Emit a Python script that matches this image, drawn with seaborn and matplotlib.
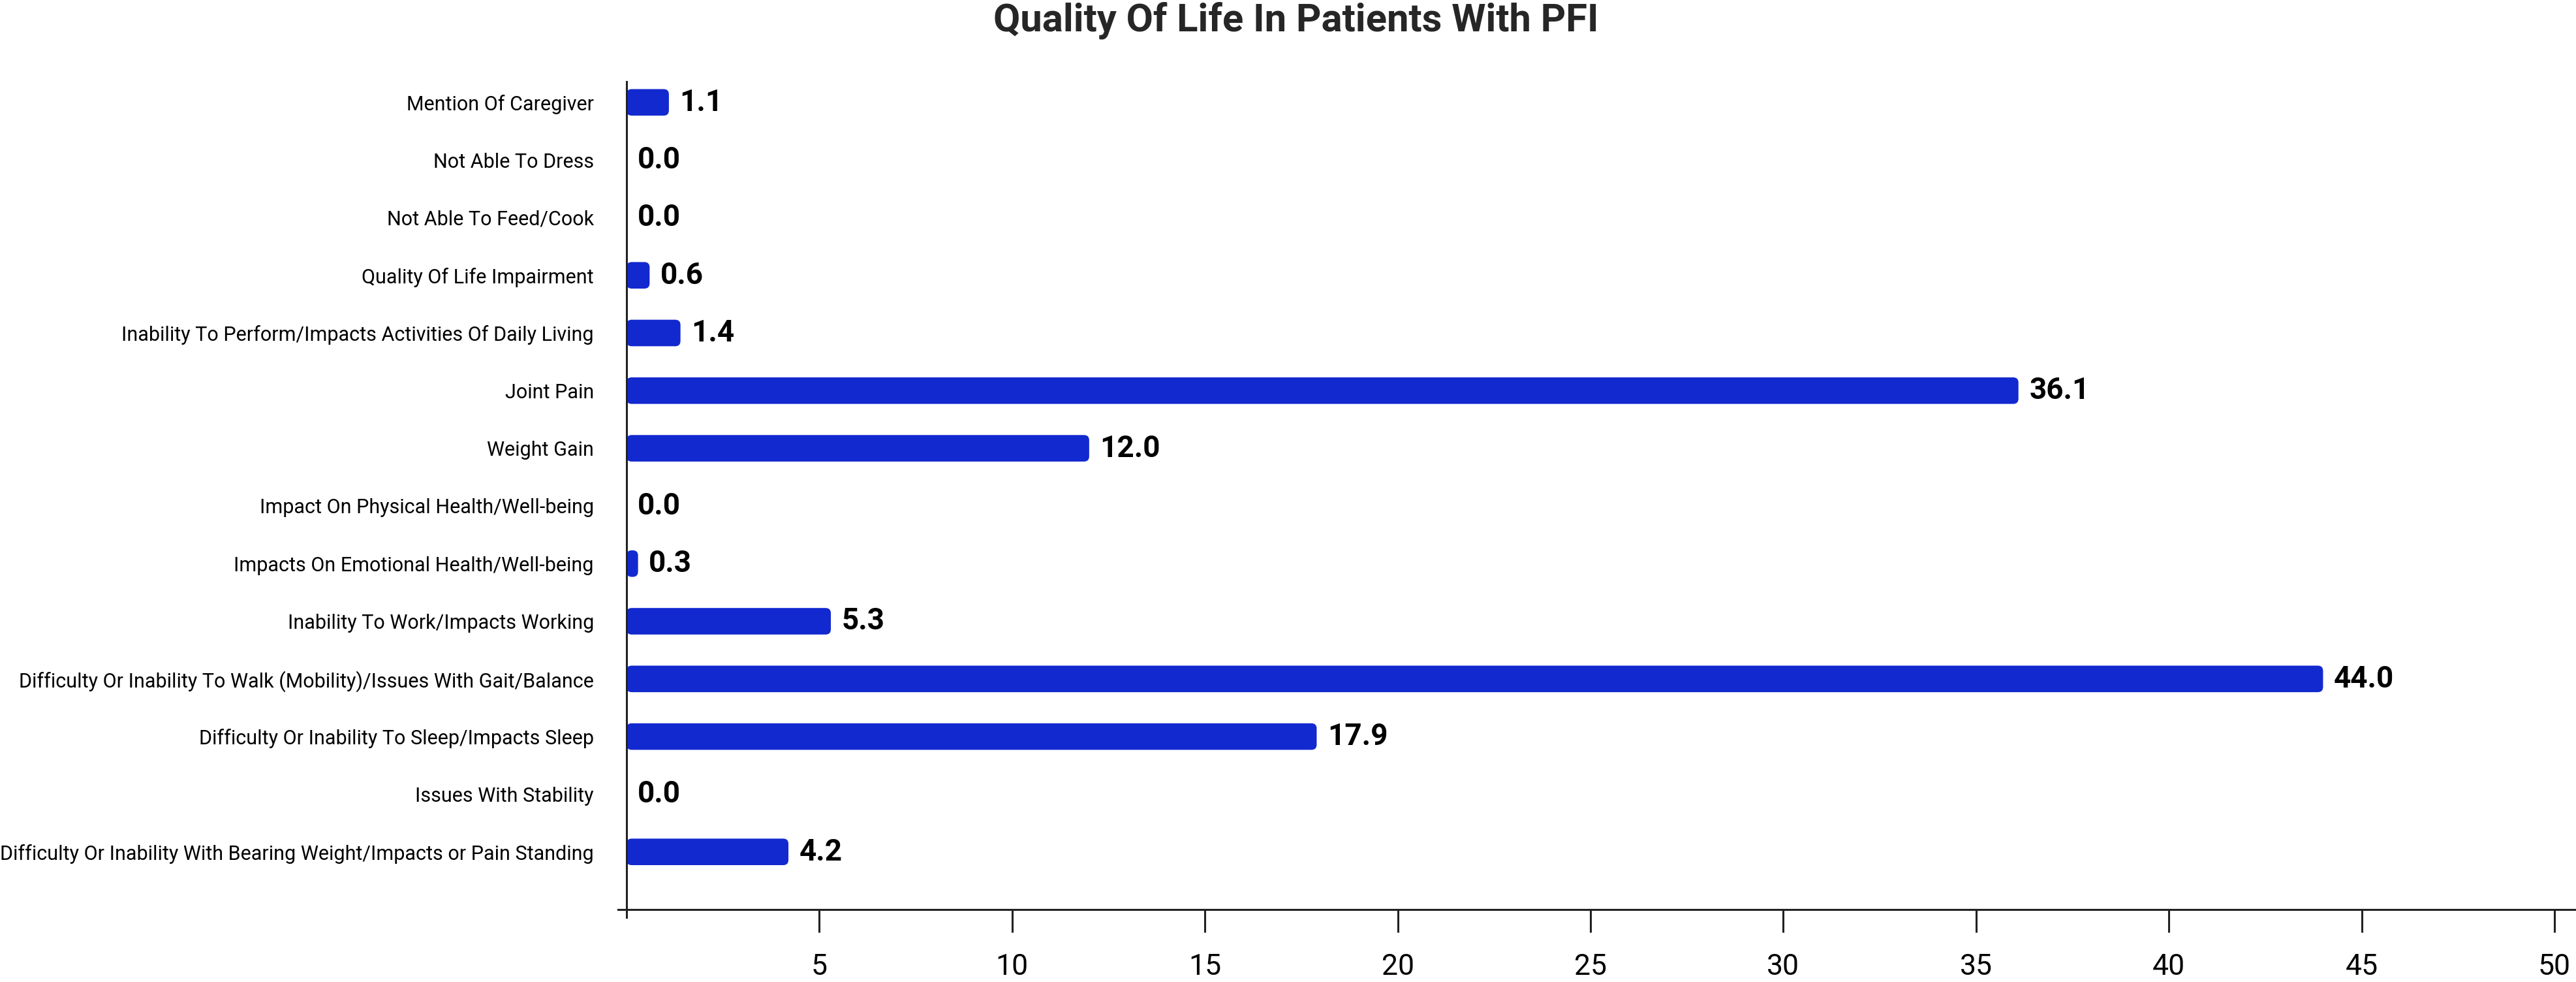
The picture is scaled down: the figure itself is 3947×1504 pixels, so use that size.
import matplotlib
matplotlib.use("Agg")
import matplotlib.pyplot as plt
from matplotlib.patches import FancyBboxPatch
import pandas as pd
import seaborn as sns

# data, top to bottom as in the chart
categories = [
    'Mention Of Caregiver',
    'Not Able To Dress',
    'Not Able To Feed/Cook',
    'Quality Of Life Impairment',
    'Inability To Perform/Impacts Activities Of Daily Living',
    'Joint Pain',
    'Weight Gain',
    'Impact On Physical Health/Well-being',
    'Impacts On Emotional Health/Well-being',
    'Inability To Work/Impacts Working',
    'Difficulty Or Inability To Walk (Mobility)/Issues With Gait/Balance',
    'Difficulty Or Inability To Sleep/Impacts Sleep',
    'Issues With Stability',
    'Difficulty Or Inability With Bearing Weight/Impacts or Pain Standing',
]
values = [1.1, 0.0, 0.0, 0.6, 1.4, 36.1, 12.0, 0.0, 0.3, 5.3, 44.0, 17.9, 0.0, 4.2]
x_ticks = [5, 10, 15, 20, 25, 30, 35, 40, 45, 50]

title = 'Quality Of Life In Patients With PFI'
bar_color = '#1229CF'

df = pd.DataFrame({'category': categories, 'value': values})

sns.set_style('white')
plt.rcParams['font.family'] = ['Roboto', 'DejaVu Sans']

fig = plt.figure(figsize=(39.47, 15.04), dpi=100)
ax = fig.add_axes([0.2432, 0.0738, 0.7568, 0.8431])

sns.barplot(data=df, x='value', y='category', color=bar_color, width=0.46,
            saturation=1, orient='h', ax=ax)

ax.set_xlim(0, 50.56)
ax.set_ylim(14.0, -0.36)

# value labels
ax.bar_label(ax.containers[0], fmt='%.1f', padding=12, fontsize=33,
             fontweight='bold', color='black')

# swap plain rectangles for rounded ones
x_px = ax.bbox.width / (50.56 - 0)
y_px = ax.bbox.height / 14.36
r = 8 / x_px
aspect = (8 / y_px) / r
for bar in ax.containers[0]:
    w = bar.get_width()
    if w <= 0:
        continue
    rounded = FancyBboxPatch((bar.get_x(), bar.get_y()), w, bar.get_height(),
                             boxstyle=f'round,pad=0,rounding_size={r}',
                             mutation_aspect=aspect, facecolor=bar_color,
                             edgecolor='none')
    ax.add_patch(rounded)
    bar.set_visible(False)

ax.set_xticks(x_ticks)
ax.set_xticklabels([str(t) for t in x_ticks])
ax.tick_params(axis='x', bottom=True, direction='out', length=25, width=2.2,
               color='#222222', pad=23, labelsize=32, labelcolor='black')
ax.tick_params(axis='y', left=False, length=0, pad=36, labelsize=22,
               labelcolor='black')
ax.set_xlabel('')
ax.set_ylabel('')

for side in ['top', 'right']:
    ax.spines[side].set_visible(False)
for side in ['left', 'bottom']:
    ax.spines[side].set_color('#222222')
    ax.spines[side].set_linewidth(2.2)
ax.spines['left'].set_bounds(14.0 + 12 / y_px, -0.36)
ax.spines['bottom'].set_bounds(-13 / x_px, 50.56)

fig.text(0.503, 0.979, title, ha='center', va='center', fontsize=43,
         fontweight='bold')

fig.savefig('out.png', dpi=100)
